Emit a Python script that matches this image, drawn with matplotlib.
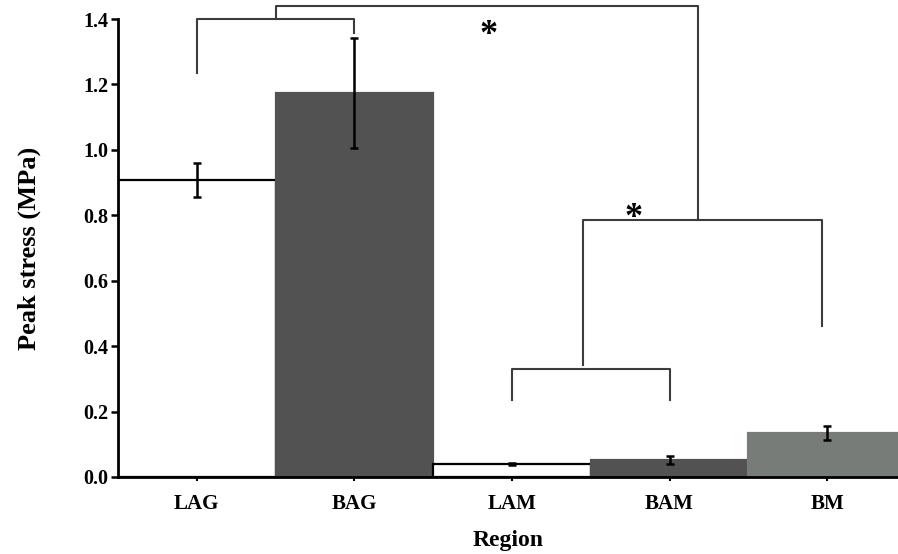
import matplotlib
matplotlib.use("Agg")
import matplotlib.pyplot as plt
import numpy as np

plt.rcParams['font.family'] = ['Liberation Serif', 'DejaVu Serif']
plt.rcParams['font.weight'] = 'bold'

# data
regions = ['LAG', 'BAG', 'LAM', 'BAM', 'BM']
peak = [0.908, 1.174, 0.040, 0.052, 0.135]
err = [0.053, 0.168, 0.004, 0.012, 0.022]
colors = ['white', '#525252', 'white', '#525252', '#787c78']
edges = ['black', '#525252', 'black', '#525252', '#787c78']

# significance brackets: (x_left, x_right, y_top, y_left_end, y_right_end)
brackets = [
    (0.0, 1.0, 1.400, 1.235, 1.358),
    (0.5, 3.18, 1.440, 1.400, 0.785),
    (2.45, 3.97, 0.785, 0.342, 0.461),
    (2.0, 3.0, 0.330, 0.235, 0.235),
]
stars = [(1.85, 1.35), (2.77, 0.79)]

fig = plt.figure(figsize=(8.98, 5.54), dpi=100)
ax = fig.add_axes([0.1314, 0.139, 0.8686, 0.8266])

x = np.arange(len(regions))
ax.bar(x, peak, width=1.0, color=colors, edgecolor=edges, linewidth=1.6, zorder=2)
ax.errorbar(x, peak, yerr=err, fmt='none', ecolor='black', elinewidth=1.8,
            capsize=3, capthick=1.8, zorder=3)

for xl, xr, yt, yl, yr in brackets:
    ax.plot([xl, xl, xr, xr], [yl, yt, yt, yr], color='#3c3c3c', lw=1.5,
            clip_on=False, zorder=4)

for sx, sy in stars:
    ax.text(sx, sy, '*', fontsize=26, ha='center', va='center', fontweight='bold')

ax.set_xlim(-0.5, 4.45)
ax.set_ylim(0, 1.4)
ax.set_yticks(np.arange(0, 1.41, 0.2))
ax.set_yticklabels(['%.1f' % v for v in np.arange(0, 1.41, 0.2)], fontsize=14.5)
ax.set_xticks(x)
ax.set_xticklabels(regions, fontsize=15)

ax.tick_params(axis='y', direction='out', length=5, width=1.8, pad=2)
ax.tick_params(axis='x', direction='out', length=3, width=1.5, pad=9)

for s in ['top', 'right']:
    ax.spines[s].set_visible(False)
for s in ['left', 'bottom']:
    ax.spines[s].set_linewidth(2)
    ax.spines[s].set_zorder(5)

ax.set_xlabel('Region', fontsize=17, fontweight='bold', labelpad=12)
ax.set_ylabel('Peak stress (MPa)', fontsize=19, fontweight='bold', labelpad=30)

plt.savefig('out.png', dpi=100)
